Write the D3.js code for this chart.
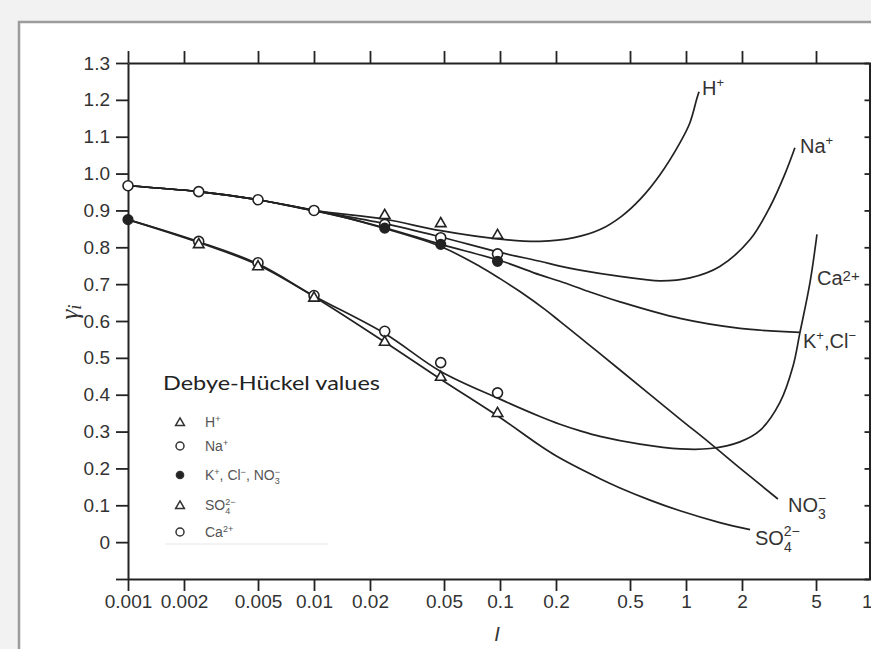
<!DOCTYPE html>
<html><head><meta charset="utf-8">
<script src="https://cdnjs.cloudflare.com/ajax/libs/d3/7.8.5/d3.min.js"></script>
<style>
html,body{margin:0;padding:0;background:#f2f2f2;}
svg{display:block;}
text{font-family:"Liberation Sans",Arial,Helvetica,sans-serif;}
</style></head>
<body>
<svg id="c" width="871" height="649"></svg>
<script>
// ---- data ----
const xTicks = [0.001,0.002,0.005,0.01,0.02,0.05,0.1,0.2,0.5,1,2,5,10];
const xTickLabels = ["0.001","0.002","0.005","0.01","0.02","0.05","0.1","0.2","0.5","1","2","5","10"];
const yTicks = [-0.1,0,0.1,0.2,0.3,0.4,0.5,0.6,0.7,0.8,0.9,1.0,1.1,1.2,1.3];
const yTickLabels = ["","0","0.1","0.2","0.3","0.4","0.5","0.6","0.7","0.8","0.9","1.0","1.1","1.2","1.3"];

// curves [I, gamma]
const curveH = [[0.001,0.967],[0.0024,0.951],[0.005,0.929],[0.01,0.900],[0.024,0.876],[0.048,0.845],[0.1,0.822],[0.164,0.816],[0.25,0.826],[0.345,0.848],[0.45,0.884],[0.566,0.93],[0.725,0.997],[0.929,1.084],[1.05,1.138],[1.146,1.205],[1.175,1.222]];
const curveNa = [[0.001,0.967],[0.0024,0.951],[0.005,0.929],[0.01,0.900],[0.024,0.864],[0.048,0.828],[0.1,0.786],[0.164,0.762],[0.21,0.749],[0.269,0.738],[0.442,0.721],[0.725,0.709],[1.05,0.717],[1.52,0.748],[2.21,0.821],[2.83,0.91],[3.41,1.0],[3.85,1.07]];
const curveK = [[0.001,0.967],[0.0024,0.951],[0.005,0.929],[0.01,0.900],[0.024,0.853],[0.048,0.808],[0.1,0.764],[0.164,0.725],[0.21,0.708],[0.3,0.680],[0.442,0.652],[0.929,0.607],[1.95,0.580],[4.1,0.569]];
const curveNO3 = [[0.001,0.967],[0.0024,0.951],[0.005,0.929],[0.01,0.899],[0.015,0.880],[0.024,0.851],[0.048,0.802],[0.078,0.748],[0.1,0.715],[0.128,0.68],[0.175,0.631],[0.21,0.599],[0.3,0.536],[0.442,0.467],[0.929,0.334],[1.35,0.268],[1.95,0.201],[3.12,0.117]];
const curveCa = [[0.001,0.875],[0.0024,0.815],[0.005,0.755],[0.01,0.668],[0.024,0.566],[0.048,0.463],[0.1,0.388],[0.164,0.341],[0.21,0.32],[0.27,0.302],[0.345,0.287],[0.566,0.266],[0.929,0.253],[1.35,0.254],[1.95,0.272],[2.5,0.303],[3.2,0.379],[3.76,0.477],[4.1,0.569],[4.64,0.704],[5.06,0.835]];
const curveSO4 = [[0.001,0.875],[0.0024,0.813],[0.005,0.752],[0.01,0.666],[0.024,0.543],[0.048,0.442],[0.1,0.338],[0.164,0.262],[0.21,0.228],[0.345,0.172],[0.442,0.147],[0.64,0.114],[0.929,0.085],[1.52,0.053],[2.21,0.034]];

// Debye-Hückel points
const ptsNa = [[0.001,0.967],[0.0024,0.951],[0.005,0.929],[0.01,0.900],[0.024,0.862],[0.048,0.826],[0.097,0.782]];
const ptsH = [[0.024,0.889],[0.048,0.867],[0.097,0.835]];
const ptsK = [[0.024,0.852],[0.048,0.808],[0.097,0.762],[0.001,0.875]];
const ptsCa = [[0.0024,0.816],[0.005,0.758],[0.01,0.669],[0.024,0.572],[0.048,0.487],[0.097,0.405]];
const ptsSO4 = [[0.0024,0.81],[0.005,0.75],[0.01,0.665],[0.024,0.545],[0.048,0.45],[0.097,0.352]];

const svg = d3.select("#c");
svg.append("rect").attr("width",871).attr("height",649).attr("fill","#f2f2f2");
svg.append("rect").attr("x",19).attr("y",22).attr("width",1000).attr("height",800)
  .attr("fill","#fff").attr("stroke","#9c9c9c").attr("stroke-width",2.5);

const x = d3.scaleLog().domain([0.001,10]).range([128,872]);
const y = d3.scaleLinear().domain([-0.1,1.3]).range([579,63]);
const ink = "#222";

function styleAxis(g){
  g.select(".domain").attr("stroke",ink).attr("stroke-width",2);
  g.selectAll(".tick line").attr("stroke",ink).attr("stroke-width",1.8);
  g.selectAll(".tick text").attr("fill","#333").style("font-size","19px")
   .style("font-family",'"Liberation Sans",Arial,sans-serif');
}
const gB = svg.append("g").attr("transform","translate(0,579)")
  .call(d3.axisBottom(x).tickValues(xTicks).tickSize(12).tickSizeOuter(0).tickPadding(4)
    .tickFormat((d,i)=>xTickLabels[i]));
styleAxis(gB);
const gT = svg.append("g").attr("transform","translate(0,63)")
  .call(d3.axisTop(x).tickValues(xTicks).tickSize(12).tickSizeOuter(0).tickFormat(""));
styleAxis(gT);
const gL = svg.append("g").attr("transform","translate(128,0)")
  .call(d3.axisLeft(y).tickValues(yTicks).tickSize(12).tickSizeOuter(0).tickPadding(6)
    .tickFormat((d,i)=>yTickLabels[i]));
styleAxis(gL);
const gR = svg.append("g").attr("transform","translate(869.5,0)")
  .call(d3.axisLeft(y).tickValues(yTicks).tickSize(5).tickSizeOuter(0).tickFormat(""));
styleAxis(gR);

// curves
const line = d3.line().x(d=>x(d[0])).y(d=>y(d[1])).curve(d3.curveCatmullRom.alpha(0.5));
[curveH,curveNa,curveK,curveNO3,curveCa,curveSO4].forEach(c=>{
  svg.append("path").attr("d",line(c)).attr("fill","none").attr("stroke",ink).attr("stroke-width",1.7);
});

// markers
const tri = d3.symbol().type(d3.symbolTriangle).size(48);
const triSmall = d3.symbol().type(d3.symbolTriangle).size(34);
function circles(data, filled){
  svg.append("g").selectAll("circle").data(data).join("circle")
    .attr("cx",d=>x(d[0])).attr("cy",d=>y(d[1])).attr("r",filled?4.8:5)
    .attr("fill",filled?ink:"#fff").attr("stroke",ink).attr("stroke-width",1.6);
}
function triangles(data){
  svg.append("g").selectAll("path").data(data).join("path")
    .attr("d",tri).attr("transform",d=>`translate(${x(d[0])},${y(d[1])+1})`)
    .attr("fill","#fff").attr("stroke",ink).attr("stroke-width",1.6);
}
circles(ptsNa,false);
circles(ptsCa,false);
triangles(ptsSO4);
triangles(ptsH);
circles(ptsK,true);

// curve labels
function label(xp,yp,parts,size){
  const t = svg.append("text").attr("x",xp).attr("y",yp).attr("fill","#333").style("font-size",(size||20)+"px");
  parts.forEach(p=>{
    const s = t.append("tspan").text(p.t);
    if(p.dx!==undefined) s.attr("dx",p.dx);
    if(p.dy!==undefined) s.attr("dy",p.dy);
    if(p.fs) s.style("font-size",p.fs+"px");
  });
}
label(702,95,[{t:"H"},{t:"+",dy:-8,fs:13}]);
label(800,153,[{t:"Na"},{t:"+",dy:-8,fs:13}]);
label(817,285,[{t:"Ca"},{t:"2+",dy:-4,fs:15}]);
label(803,348,[{t:"K"},{t:"+",dy:-8,fs:13},{t:",",dy:8},{t:"Cl"},{t:"−",dy:-8,fs:13}]);
label(788,512,[{t:"NO"},{t:"3",dy:7,fs:14},{t:"−",dx:-8,dy:-16,fs:14}]);
label(755,545,[{t:"SO"},{t:"4",dy:7,fs:14},{t:"2−",dx:-8,dy:-16,fs:14}]);

// axis titles
svg.append("text").attr("transform","translate(78,312) rotate(-90)").attr("text-anchor","middle")
  .style("font-family",'"Liberation Serif",serif').style("font-style","italic").style("font-size","25px").attr("fill","#333")
  .call(t=>{t.append("tspan").text("γ");t.append("tspan").text("i").attr("dy",3).style("font-size","19px");});
svg.append("text").attr("x",497).attr("y",641).attr("text-anchor","middle")
  .style("font-style","italic").style("font-size","20px").attr("fill","#333").text("I");

// legend
svg.append("text").attr("x",163).attr("y",390).attr("fill","#222")
  .style("font-family",'Lato,"Open Sans",sans-serif').style("font-size","19px")
  .attr("textLength",217).attr("lengthAdjust","spacingAndGlyphs").text("Debye-Hückel values");
svg.append("line").attr("x1",165).attr("x2",328).attr("y1",544).attr("y2",544).attr("stroke","#e6e6e6").attr("stroke-width",1);
const legRows = [
  {sym:"tri", y:422, parts:[{t:"H"},{t:"+",dy:-5,fs:9}]},
  {sym:"circ", y:446, parts:[{t:"Na"},{t:"+",dy:-5,fs:9}]},
  {sym:"dot", y:475, parts:[{t:"K"},{t:"+",dy:-5,fs:9},{t:", Cl",dy:5},{t:"−",dy:-5,fs:9},{t:", NO",dy:5},{t:"3",dy:4,fs:9},{t:"−",dx:-5,dy:-9,fs:9}]},
  {sym:"tri", y:505, parts:[{t:"SO"},{t:"4",dy:4,fs:9},{t:"2−",dx:-5,dy:-9,fs:9}]},
  {sym:"circ", y:532, parts:[{t:"Ca"},{t:"2+",dy:-5,fs:9}]}
];
legRows.forEach(r=>{
  if(r.sym==="tri") svg.append("path").attr("d",triSmall).attr("transform",`translate(180,${r.y+1})`)
     .attr("fill","#fff").attr("stroke","#333").attr("stroke-width",1.5);
  else svg.append("circle").attr("cx",180).attr("cy",r.y).attr("r",r.sym==="dot"?3.6:4)
     .attr("fill",r.sym==="dot"?"#222":"#fff").attr("stroke","#333").attr("stroke-width",1.5);
  const t = svg.append("text").attr("x",205).attr("y",r.y+5).attr("fill","#555").style("font-size","14px");
  r.parts.forEach(p=>{
    const s=t.append("tspan").text(p.t);
    if(p.dx!==undefined) s.attr("dx",p.dx);
    if(p.dy!==undefined) s.attr("dy",p.dy);
    if(p.fs) s.style("font-size",p.fs+"px");
  });
});
</script>
</body></html>
